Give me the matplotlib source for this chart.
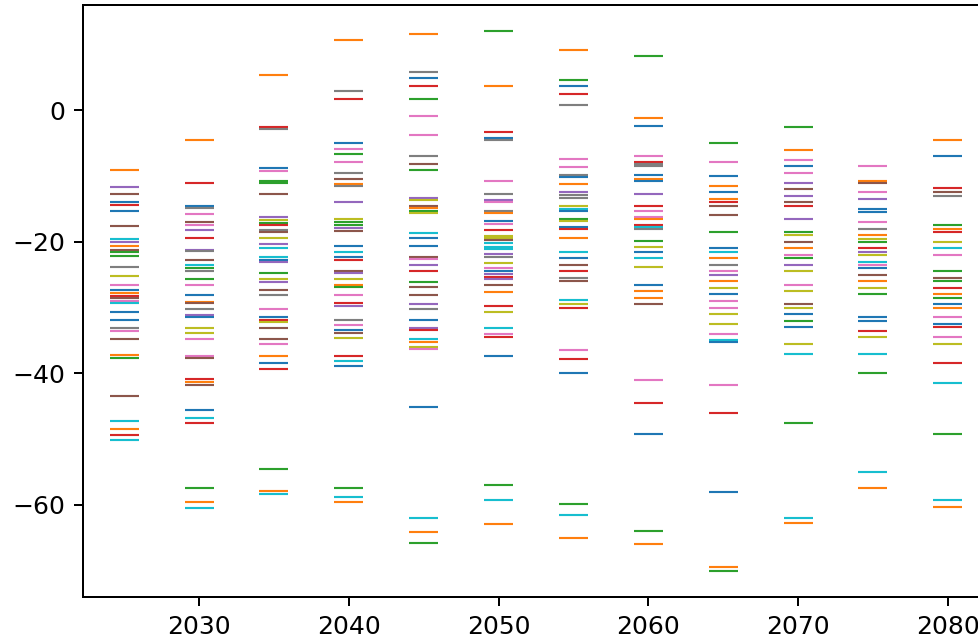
import numpy as np
import matplotlib
matplotlib.use('Agg')
import matplotlib.pyplot as plt

# tab10 colour index for every mark: 0 blue 1 orange 2 green 3 red 4 purple
# 5 brown 6 pink 7 gray 8 olive 9 cyan
years = [2025, 2030, 2035, 2040, 2045, 2050, 2055, 2060, 2065, 2070, 2075, 2080]

v2025 = [-9.1, -11.6, -12.8, -14.0, -14.4, -15.3, -17.6, -19.5, -20.1, -20.7, -21.2, -21.6,
         -22.2, -23.8, -25.2, -26.5, -27.4, -27.8, -28.2, -28.6, -29.0, -29.3, -30.6, -31.9,
         -33.1, -33.5, -34.8, -37.2, -37.6, -43.5, -47.2, -48.4, -49.3, -50.1]
c2025 = [1, 4, 5, 0, 3, 0, 5, 9, 4, 1, 5, 2, 2, 7, 8, 6, 0, 1, 3, 5, 6, 9, 0, 0,
         7, 6, 5, 1, 2, 5, 9, 1, 3, 9]

v2030 = [-4.5, -11.1, -14.6, -14.8, -15.7, -17.0, -17.4, -18.2, -19.4, -21.2, -21.4, -22.7,
         -23.6, -24.0, -24.4, -25.6, -26.5, -28.1, -29.1, -29.3, -30.2, -31.1, -31.4, -33.1,
         -33.9, -34.8, -37.3, -37.6, -40.9, -41.3, -41.7, -45.5, -46.8, -47.6, -57.5, -59.6, -60.4]
c2030 = [1, 3, 0, 7, 6, 5, 6, 4, 3, 4, 7, 5, 9, 2, 7, 2, 6, 0, 1, 5, 7, 4, 0, 8,
         8, 6, 6, 5, 3, 1, 5, 0, 9, 3, 2, 1, 9]

v2035 = [5.3, -2.5, -2.8, -8.8, -9.2, -10.7, -11.0, -12.8, -16.2, -16.7, -17.1, -17.4,
         -18.2, -18.5, -19.4, -20.3, -21.0, -22.3, -22.7, -23.1, -24.8, -25.7, -26.1, -27.3,
         -28.1, -30.2, -31.5, -31.9, -32.2, -33.1, -34.8, -35.6, -37.3, -38.5, -39.3, -54.6,
         -57.9, -58.3]
c2035 = [1, 3, 7, 0, 6, 2, 2, 5, 4, 8, 2, 3, 7, 5, 8, 4, 9, 9, 0, 4, 2, 8, 4, 5,
         7, 6, 0, 3, 8, 5, 5, 6, 1, 0, 3, 2, 1, 9]

v2040 = [10.7, 2.9, 1.7, -5.0, -5.9, -6.6, -7.9, -9.5, -10.4, -11.2, -11.5, -14.0, -16.6,
         -17.0, -17.4, -17.9, -18.4, -20.7, -21.5, -22.3, -22.7, -24.4, -24.7, -25.6, -26.5,
         -26.9, -28.1, -29.3, -29.7, -31.9, -32.7, -33.4, -33.8, -34.7, -37.3, -38.1, -38.9,
         -57.5, -58.8, -59.6]
c2040 = [1, 7, 3, 0, 6, 2, 6, 7, 5, 1, 7, 4, 8, 2, 2, 4, 5, 0, 9, 0, 3, 5, 4, 8, 1,
         2, 6, 3, 4, 7, 6, 0, 5, 8, 3, 9, 0, 2, 9, 1]

v2045 = [11.6, 5.8, 4.9, 3.7, 1.7, -0.8, -3.7, -7.0, -8.2, -9.1, -13.3, -13.6, -14.6,
         -14.9, -15.3, -15.6, -18.6, -19.4, -20.7, -22.3, -22.6, -23.6, -24.4, -26.1, -26.9,
         -28.1, -29.4, -30.2, -31.9, -33.1, -33.4, -34.8, -35.2, -36.0, -36.3, -45.1, -62.0,
         -64.1, -65.8]
c2045 = [1, 7, 0, 3, 2, 6, 6, 7, 5, 2, 4, 8, 5, 1, 2, 8, 9, 0, 0, 5, 6, 4, 3, 2, 5,
         5, 4, 7, 0, 4, 3, 9, 1, 8, 6, 0, 9, 1, 2]

v2050 = [12.0, 3.7, -3.3, -4.2, -4.5, -10.7, -12.8, -13.6, -14.0, -15.3, -15.6, -16.9,
         -17.3, -18.2, -19.1, -19.4, -19.7, -20.2, -20.8, -21.1, -21.9, -22.3, -23.2, -24.0,
         -24.5, -24.9, -25.4, -25.7, -26.5, -27.7, -29.8, -30.6, -33.1, -34.0, -34.4, -37.3,
         -57.0, -59.2, -62.9]
c2050 = [2, 1, 3, 0, 7, 6, 7, 4, 6, 7, 1, 0, 6, 3, 8, 8, 5, 9, 9, 9, 4, 7, 8, 6,
         0, 4, 3, 4, 5, 1, 3, 8, 9, 6, 3, 0, 2, 9, 1]

v2055 = [9.1, 4.6, 3.7, 2.5, 0.8, -7.4, -8.7, -9.9, -10.2, -11.2, -12.4, -12.9, -13.3,
         -14.5, -15.0, -15.3, -16.5, -16.8, -17.7, -18.0, -19.4, -21.5, -22.5, -23.5, -24.5,
         -25.5, -26.0, -28.8, -29.5, -30.0, -36.5, -37.8, -40.0, -59.8, -61.5, -65.0]
c2055 = [1, 2, 0, 3, 7, 6, 6, 7, 0, 1, 4, 7, 7, 8, 9, 0, 2, 8, 0, 3, 1, 9, 0, 5, 3,
         7, 5, 9, 8, 3, 6, 3, 0, 2, 9, 1]

v2060 = [8.2, -1.2, -2.4, -7.0, -7.8, -8.2, -8.5, -9.9, -10.4, -10.7, -12.8, -14.5, -15.3,
         -16.2, -16.5, -17.4, -17.8, -18.1, -19.9, -20.8, -21.5, -22.5, -23.8, -26.5, -27.5,
         -28.5, -29.5, -41.0, -44.5, -49.2, -64.0, -66.0]
c2060 = [2, 1, 0, 6, 3, 7, 7, 0, 1, 0, 4, 3, 6, 6, 1, 3, 9, 7, 2, 8, 0, 9, 8, 0, 1,
         1, 5, 6, 3, 0, 2, 1]

v2065 = [-5.0, -7.8, -10.0, -11.5, -12.5, -13.5, -14.0, -14.5, -16.0, -18.5, -21.0, -21.5,
         -22.5, -23.5, -24.5, -25.0, -26.0, -27.0, -28.0, -29.0, -30.0, -31.0, -32.5, -34.0,
         -35.0, -35.2, -41.8, -46.0, -58.0, -69.5, -70.0]
c2065 = [2, 6, 0, 1, 0, 1, 3, 5, 5, 2, 0, 9, 1, 7, 6, 4, 1, 8, 0, 6, 6, 8, 8, 6,
         9, 0, 6, 3, 0, 1, 2]

v2070 = [-2.5, -6.0, -7.5, -8.5, -9.5, -11.0, -12.0, -13.0, -14.0, -14.5, -16.5, -18.5,
         -19.0, -20.0, -21.0, -22.0, -22.5, -23.5, -24.5, -26.5, -27.5, -29.5, -30.0, -31.0,
         -32.0, -33.0, -35.5, -37.0, -47.5, -62.0, -62.8]
c2070 = [2, 1, 6, 0, 6, 4, 5, 4, 5, 3, 4, 2, 8, 5, 1, 6, 2, 4, 8, 6, 8, 5, 8, 0,
         2, 0, 8, 9, 2, 9, 1]

v2075 = [-8.5, -10.8, -11.0, -12.5, -13.5, -15.0, -15.5, -17.0, -18.0, -19.0, -19.5, -20.0,
         -21.0, -21.5, -22.0, -23.0, -23.5, -24.0, -25.0, -26.0, -27.0, -28.0, -31.5, -32.0,
         -33.5, -34.5, -37.0, -40.0, -55.0, -57.5]
c2075 = [6, 1, 5, 6, 4, 0, 0, 6, 7, 1, 8, 2, 3, 4, 8, 9, 6, 0, 5, 1, 8, 2, 0, 0,
         3, 8, 9, 2, 9, 1]

v2080 = [-4.5, -7.0, -11.8, -12.5, -13.0, -17.5, -18.0, -18.5, -20.0, -21.0, -22.0, -24.5,
         -25.5, -26.0, -27.0, -28.0, -28.5, -29.5, -30.0, -31.5, -32.5, -33.0, -34.5, -35.5,
         -38.5, -41.5, -49.2, -59.2, -60.3]
c2080 = [1, 0, 3, 5, 7, 2, 1, 3, 8, 9, 6, 2, 5, 2, 3, 1, 2, 0, 1, 6, 0, 3, 6, 8,
         3, 9, 2, 9, 1]

values = [v2025, v2030, v2035, v2040, v2045, v2050, v2055, v2060, v2065, v2070, v2075, v2080]
codes = [c2025, c2030, c2035, c2040, c2045, c2050, c2055, c2060, c2065, c2070, c2075, c2080]

palette = plt.get_cmap('tab10').colors

fig = plt.figure(figsize=(978 / 180, 643 / 180), dpi=180)
# the axes run past the right edge of the picture, as in the reference
ax = fig.add_axes([83 / 978, 46 / 643, 906 / 978, 592 / 643])

for yr, vals, cc in zip(years, values, codes):
    ax.scatter([yr] * len(vals), vals, c=[palette[i] for i in cc],
               marker='_', s=135, linewidths=0.85)

ax.set_xlim(2022.25, 2082.75)
ax.set_ylim(-74, 16)
ax.set_xticks([2030, 2040, 2050, 2060, 2070, 2080])
ax.set_yticks([-60, -40, -20, 0])

fig.savefig('out.png', dpi=180)
